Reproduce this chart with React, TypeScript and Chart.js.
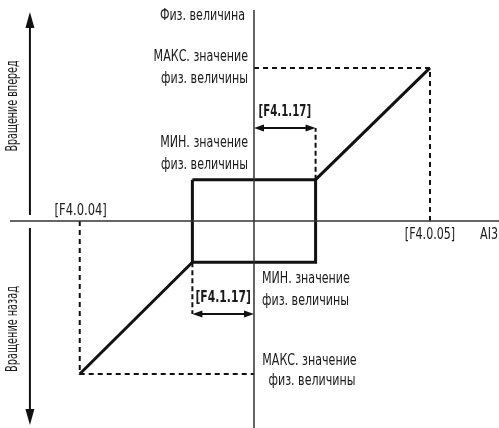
import React, { useEffect, useRef } from "react";
import { Chart, registerables } from "chart.js";

Chart.register(...registerables);

// Parameter values (in relative units)
const F404 = -9.9; // [F4.0.04] AI3 lower limit
const F405 = 10; // [F4.0.05] AI3 upper limit
const F4117 = 3.5; // [F4.1.17] dead band half-width
const physMax = 10; // MAX physical value
const physMin = 2.7; // MIN physical value
const markerY = 6.08; // height of the dead-band dimension arrows

const xRange = [-14.43, 13.92];
const yRange = [-13.53, 14.44];

const labelFont = "'Liberation Sans Narrow', 'DejaVu Sans Condensed', sans-serif";

const characteristicUp = [
  { x: F4117, y: physMin },
  { x: F405, y: physMax },
];
const characteristicDown = [
  { x: -F4117, y: -physMin },
  { x: F404, y: -physMax },
];
const hysteresisBox = [
  { x: -F4117, y: physMin },
  { x: F4117, y: physMin },
  { x: F4117, y: -physMin },
  { x: -F4117, y: -physMin },
  { x: -F4117, y: physMin },
];
const dashUp = [
  { x: 0, y: physMax },
  { x: F405, y: physMax },
  { x: F405, y: 0 },
];
const dashDown = [
  { x: F404, y: 0 },
  { x: F404, y: -physMax },
  { x: 0, y: -physMax },
];
const dashBandUp = [
  { x: F4117, y: physMin },
  { x: F4117, y: markerY },
];
const dashBandDown = [
  { x: -F4117, y: -physMin },
  { x: -F4117, y: -markerY },
];
const xAxisLine = [
  { x: -13.86, y: 0 },
  { x: xRange[1], y: 0 },
];
const yAxisLine = [
  { x: 0, y: 13.79 },
  { x: 0, y: yRange[0] },
];

const annotPlugin = {
  id: "annot",
  afterDatasetsDraw(chart: any) {
    const ctx = chart.ctx as CanvasRenderingContext2D;
    const xs = chart.scales.x;
    const ys = chart.scales.y;
    const px = (v: number) => xs.getPixelForValue(v);
    const py = (v: number) => ys.getPixelForValue(v);
    const x0 = px(0);
    const y0 = py(0);

    const head = (x: number, y: number, dx: number, dy: number, len: number, hw: number) => {
      const nx = -dy;
      const ny = dx;
      ctx.beginPath();
      ctx.moveTo(x, y);
      ctx.lineTo(x - dx * len + nx * hw, y - dy * len + ny * hw);
      ctx.lineTo(x - dx * len - nx * hw, y - dy * len - ny * hw);
      ctx.closePath();
      ctx.fill();
    };
    const line = (xa: number, ya: number, xb: number, yb: number, w: number) => {
      ctx.beginPath();
      ctx.lineWidth = w;
      ctx.moveTo(xa, ya);
      ctx.lineTo(xb, yb);
      ctx.stroke();
    };

    ctx.save();
    ctx.fillStyle = "#111";
    ctx.strokeStyle = "#111";

    // rotation direction arrows on the left
    const ax = px(-12.73);
    line(ax, py(0.39), ax, py(13.2), 2);
    head(ax, py(13.66), 0, -1, 16, 4.5);
    line(ax, py(-0.46), ax, py(-12.9), 2);
    head(ax, py(-13.33), 0, 1, 16, 4.5);

    // dead band dimension arrows
    const ayU = py(markerY);
    line(x0 + 4, ayU, px(F4117) - 4, ayU, 2);
    head(x0, ayU, -1, 0, 10, 3.5);
    head(px(F4117), ayU, 1, 0, 10, 3.5);
    const ayD = py(-markerY);
    line(px(-F4117) + 4, ayD, x0 - 4, ayD, 2);
    head(px(-F4117), ayD, -1, 0, 10, 3.5);
    head(x0, ayD, 1, 0, 10, 3.5);

    // texts (horizontally condensed to mimic the narrow original face)
    const txt = (
      s: string,
      x: number,
      y: number,
      align: CanvasTextAlign,
      bold = false,
      sx = 0.77,
    ) => {
      ctx.save();
      ctx.translate(x, y);
      ctx.scale(sx, 1);
      ctx.font = `${bold ? "bold " : ""}16px ${labelFont}`;
      ctx.textAlign = align;
      ctx.textBaseline = "middle";
      ctx.fillText(s, 0, 0);
      ctx.restore();
    };
    ctx.fillStyle = "#1a1a1a";
    txt("Физ. величина", x0 - 9, py(13.4), "right");

    const yMaxP = py(physMax);
    txt("МАКС. значение", x0 - 6, yMaxP - 11, "right");
    txt("физ. величины", x0 - 6, yMaxP + 11, "right");

    const yMinP = py(physMin);
    txt("МИН. значение", x0 - 6, yMinP - 37, "right");
    txt("физ. величины", x0 - 6, yMinP - 15, "right");

    const yMinN = py(-physMin);
    txt("МИН. значение", x0 + 8, yMinN + 17, "left");
    txt("физ. величины", x0 + 8, yMinN + 39, "left");

    const yMaxN = py(-physMax);
    txt("МАКС. значение", x0 + 55.5, yMaxN - 13, "center");
    txt("физ. величины", x0 + 58, yMaxN + 7, "center");

    txt("[F4.1.17]", (x0 + px(F4117)) / 2, ayU - 16, "center", true, 0.71);
    txt("[F4.1.17]", (x0 + px(-F4117)) / 2, ayD - 16, "center", true, 0.75);

    txt("[F4.0.04]", px(F404) + 1, y0 - 10, "center", false, 0.8);
    txt("[F4.0.05]", px(F405), y0 + 14, "center", false, 0.77);
    txt("AI3", chart.width - 1, y0 + 14, "right");

    // rotated labels
    ctx.save();
    ctx.translate(13, 106);
    ctx.rotate(-Math.PI / 2);
    txt("Вращение вперед", 0, 0, "center", false, 0.665);
    ctx.restore();
    ctx.save();
    ctx.translate(13, 329);
    ctx.rotate(-Math.PI / 2);
    txt("Вращение назад", 0, 0, "center", false, 0.675);
    ctx.restore();

    ctx.restore();
  },
};

export default function App() {
  const ref = useRef<HTMLCanvasElement>(null);
  useEffect(() => {
    document.body.style.margin = "0";
    const mk = (data: any[], w: number, dash: number[] = [], color = "#111") => ({
      data,
      borderColor: color,
      borderWidth: w,
      borderDash: dash,
      pointRadius: 0,
      showLine: true,
      fill: false,
      tension: 0,
      borderCapStyle: "butt",
      borderJoinStyle: "miter",
    });
    const chart = new Chart(ref.current!, {
      type: "scatter",
      data: {
        datasets: [
          mk(xAxisLine, 1.5, [], "#333"),
          mk(yAxisLine, 1.5, [], "#333"),
          mk(dashUp, 2, [5, 4]),
          mk(dashDown, 2, [5, 4]),
          mk(dashBandUp, 2, [5, 3]),
          mk(dashBandDown, 2, [5, 3]),
          mk(hysteresisBox, 3),
          mk(characteristicUp, 3),
          mk(characteristicDown, 3),
        ] as any,
      },
      options: {
        animation: false,
        responsive: false,
        maintainAspectRatio: false,
        layout: { padding: 0 },
        plugins: { legend: { display: false }, tooltip: { enabled: false } },
        scales: {
          x: { type: "linear", min: xRange[0], max: xRange[1], display: false },
          y: { type: "linear", min: yRange[0], max: yRange[1], display: false },
        },
      },
      plugins: [annotPlugin],
    });
    return () => chart.destroy();
  }, []);
  return <canvas ref={ref} width={499} height={428} style={{ display: "block" }} />;
}
